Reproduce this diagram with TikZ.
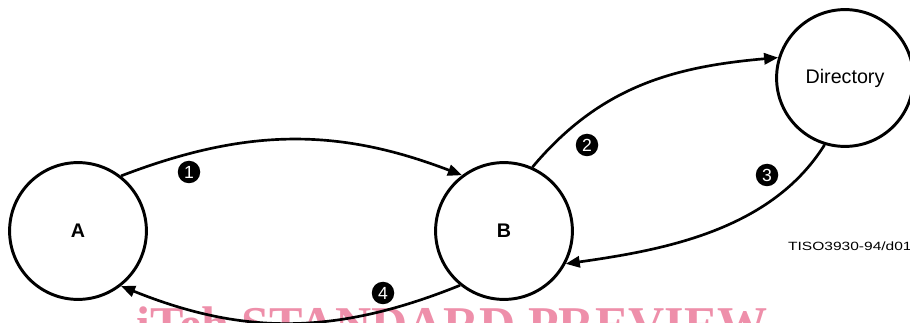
\documentclass[tikz,border=0pt]{standalone}
\usepackage{fontspec}
\setmainfont{Liberation Sans}
\newfontfamily\wmfont{Liberation Serif}
\usetikzlibrary{arrows.meta}
\definecolor{isopink}{RGB}{238,143,170}

\begin{document}
\begin{tikzpicture}[x=0.025cm,y=0.025cm,
  station/.style={circle,draw,line width=2.1pt,minimum size=3.42cm,inner sep=0pt,
    font=\fontsize{14}{16}\selectfont},
  num/.style={circle,fill=black,text=white,inner sep=0pt,minimum size=16pt,
    font=\fontsize{12.5}{12}\selectfont},
  flow/.style={line width=1.9pt,-{Triangle[length=10pt,width=8pt]}}]
  \useasboundingbox (0,0) rectangle (910,323);
  % watermark, cut by the page edge
  \node[anchor=base west,inner sep=0pt,text=isopink,
    font=\wmfont\fontsize{35.6}{40}\selectfont\bfseries] (wm) at (136,-19) {iTeh STANDARD PREVIEW};
  % the three parties
  \node[station,font=\fontsize{14}{16}\selectfont\bfseries] (a) at (78,92) {A};
  \node[station,font=\fontsize{14}{16}\selectfont\bfseries] (b) at (504,92) {B};
  \node[station] (dir) at (845,245) {Directory};
  % message flows
  \draw[flow] (a.52) to[out=21,in=159] (b.127);
  \draw[flow] (b.66) to[out=50,in=185] (dir.163);
  \draw[flow] (dir.253) to[out=238,in=8,looseness=0.9] (b.-28);
  \draw[flow] (b.231) to[out=202,in=-22] (a.308);
  % step numbers
  \foreach \n/\x/\y in {1/189/151,2/587/178,3/767/148,4/383/30}
    \node[num] (n\n) at (\x,\y) {\n};
  \node[anchor=east,inner sep=0pt,xscale=1.3,font=\fontsize{8.5}{10}\selectfont] (ref) at (912,77) {TISO3930-94/d01};
\end{tikzpicture}
\end{document}
